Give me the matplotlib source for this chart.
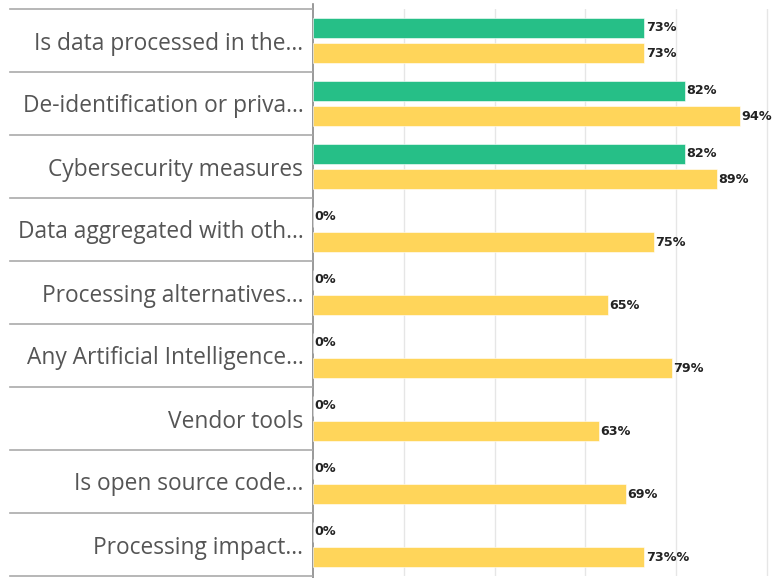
import matplotlib
matplotlib.use("Agg")
import matplotlib.pyplot as plt
import matplotlib.transforms as mtrans
import numpy as np

categories = [
    "Is data processed in the...",
    "De-identification or priva...",
    "Cybersecurity measures",
    "Data aggregated with oth...",
    "Processing alternatives...",
    "Any Artificial Intelligence...",
    "Vendor tools",
    "Is open source code...",
    "Processing impact...",
]
green_values = [73, 82, 82, 0, 0, 0, 0, 0, 0]
yellow_values = [73, 94, 89, 75, 65, 79, 63, 69, 73]
green_labels = ["73%", "82%", "82%", "0%", "0%", "0%", "0%", "0%", "0%"]
yellow_labels = ["73%", "94%", "89%", "75%", "65%", "79%", "63%", "69%", "73%%"]

GREEN = "#26BF87"
YELLOW = "#FFD55A"

W, H = 772, 578
fig = plt.figure(figsize=(W / 100, H / 100), dpi=100)
ax_left, ax_right = 313 / W, 770 / W
ax_top, ax_bottom = 9 / H, 576 / H
ax = fig.add_axes([ax_left, 1 - ax_bottom, ax_right - ax_left, ax_bottom - ax_top])

n = len(categories)
y = np.arange(n)
bh = 0.317
off = 0.2
ax.barh(y - off, green_values, height=bh, color=GREEN, edgecolor="white", linewidth=0.4, zorder=3)
ax.barh(y + off, yellow_values, height=bh, color=YELLOW, edgecolor="white", linewidth=0.4, zorder=3)

for i in range(n):
    ax.text(green_values[i] + 0.3, y[i] - off, green_labels[i], va="center", ha="left",
            fontsize=9.2, fontweight="bold", color="#222222", family="DejaVu Sans", zorder=4)
    ax.text(yellow_values[i] + 0.3, y[i] + off, yellow_labels[i], va="center", ha="left",
            fontsize=9.2, fontweight="bold", color="#222222", family="DejaVu Sans", zorder=4)

xmax = 100 * (770 - 313) / (767 - 313)
ax.set_xlim(0, xmax)
ax.set_ylim(n - 0.5, -0.5)
ax.set_xticks([20, 40, 60, 80, 100])
ax.xaxis.grid(True, color="#e6e6e6", linewidth=1, zorder=0)
ax.tick_params(axis="x", length=0, labelbottom=False)
ax.tick_params(axis="y", length=0)
ax.set_yticks(y)
ax.set_yticklabels(categories, fontsize=16.4, color="#555555", family="Open Sans")
ax.tick_params(axis="y", pad=7)
for s in ["top", "right", "bottom"]:
    ax.spines[s].set_visible(False)
ax.spines["left"].set_color("#888888")
ax.spines["left"].set_linewidth(1.2)
ax.spines["left"].set_bounds(n - 0.5 + 0.05, -0.5 - 0.08)

trans = mtrans.blended_transform_factory(fig.transFigure, ax.transData)
for b in np.arange(-0.5, n, 1.0):
    ax.plot([10 / W, 312 / W], [b, b], transform=trans, color="#aaaaaa", linewidth=1.2,
            clip_on=False, zorder=5)

fig.savefig("out.png", dpi=100, facecolor="white")
